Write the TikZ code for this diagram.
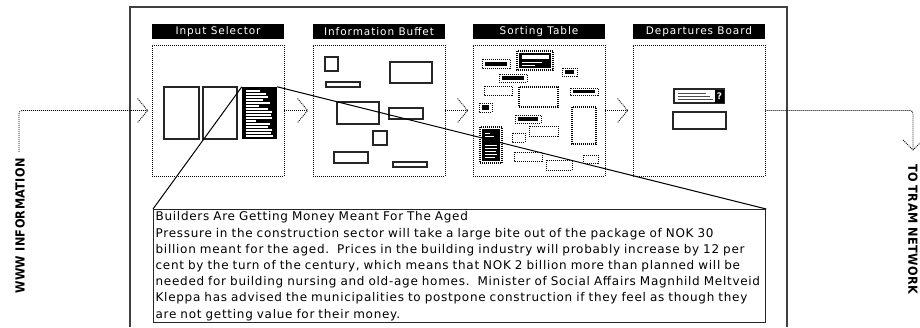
\documentclass[tikz,border=0pt]{standalone}
\usepackage{fontspec}
\setmainfont{DejaVu Sans}
\newfontfamily\bodyfont[LetterSpace=6]{DejaVu Sans}
\newfontfamily\hdrfont[LetterSpace=9]{DejaVu Sans}
\newfontfamily\vertfont[LetterSpace=3]{DejaVu Sans Condensed}
\usetikzlibrary{calc}
\begin{document}
\begin{tikzpicture}[x=1pt,y=-1pt,
  dotline/.style={line width=0.8pt, dash pattern=on 1pt off 1pt, black},
  panel/.style={draw, line width=0.8pt, dash pattern=on 1pt off 1pt, minimum width=132pt, minimum height=131pt, inner sep=0pt},
  hdr/.style={fill=black, text=white, font=\hdrfont\fontsize{10.5}{11}\selectfont, minimum width=132pt, minimum height=15pt, inner sep=0pt},
  solidbox/.style={draw=black!85, line width=1.2pt},
  dbox/.style={draw, line width=0.9pt, dash pattern=on 1pt off 1pt},
  ddbox/.style={draw, line width=1.8pt, dash pattern=on 1pt off 1pt},
  vert/.style={font=\vertfont\bfseries\fontsize{12.5}{13}\selectfont, inner sep=0pt},
  wl/.style={white, line width=1.1pt},
]
\useasboundingbox (0,0) rectangle (920,327);
% frame
\draw[line width=1.4pt, black!75] (130,327) -- (130,7) -- (787,7) -- (787,327);

% headers
\node[hdr] (h1) at (218,31.5) {Input Selector};
\node[hdr] (h2) at (379,31.5) {Information Buffet};
\node[hdr] (h3) at (539,31.5) {Sorting Table};
\node[hdr] (h4) at (699,31.5) {Departures Board};

% panels
\node[panel] (p1) at (218,110.5) {};
\node[panel] (p2) at (379,110.5) {};
\node[panel] (p3) at (539,110.5) {};
\node[panel] (p4) at (699,110.5) {};

% input selector content
\draw[solidbox] (164,87) rectangle (199,139);
\draw[solidbox] (203,87) rectangle (237,139);
\node[fill=black, minimum width=35pt, minimum height=52pt, inner sep=0pt] (doc) at (259.5,113) {};
\foreach \yy/\ll in {91/14,94/20,97/22,100/17,103/24,106/13,109/22,112/26,115/25,118/26,121/10,124/24,127/22,130/26,133/25,136/27}
  \draw[wl] (246,\yy) -- ++(\ll,0);

% information buffet content
\draw[solidbox] (325,57) rectangle (338,71);
\draw[solidbox] (390,62) rectangle (432,83);
\draw[solidbox] (326,82) rectangle (360,87);
\draw[solidbox] (337,102) rectangle (379,124);
\draw[solidbox] (389,108) rectangle (423,119);
\draw[solidbox] (373,131) rectangle (387,145);
\draw[solidbox] (334,152) rectangle (368,163);
\draw[solidbox] (393,162) rectangle (427,167);

% sorting table content
\draw[dbox] (482,59) rectangle (510,68); \fill (485,62) rectangle (507,66);
\draw[ddbox] (517,51) rectangle (553,70); \fill (519,53) rectangle (551,68);
\fill[white] (522,55) rectangle (549,59);
\draw[wl, line width=0.9pt] (522,62) -- (542,62);
\draw[wl, line width=0.9pt] (522,65) -- (535,65);
\draw[dbox] (562,68) rectangle (577,76); \fill (565,70) rectangle (574,74);
\draw[dbox] (499,74) rectangle (527,82); \fill (502,76) rectangle (524,80);
\draw[dbox] (484,86) rectangle (512,95);
\draw[ddbox] (519,87) rectangle (558,107);
\draw[dbox] (570,88) rectangle (598,95); \fill (573,90) rectangle (595,93);
\draw[dbox] (479,103) rectangle (492,112); \fill (482,105) rectangle (489,110);
\draw[ddbox] (572,107) rectangle (596,144);
\draw[dbox] (515,115) rectangle (541,123); \fill (518,117) rectangle (538,121);
\draw[dbox] (529,126) rectangle (558,136);
\draw[ddbox] (480,127) rectangle (502,163); \fill (482,129) rectangle (500,161);
\foreach \yy/\ll in {133/5,136/9,145/12,148/12,151/11,154/12,157/10}
  \draw[wl, line width=0.9pt] (485,\yy) -- ++(\ll,0);
\draw[dbox] (512,133) rectangle (525,142);
\draw[dbox] (514,152) rectangle (542,161);
\draw[dbox] (583,155) rectangle (598,163);
\draw[dbox] (546,160) rectangle (572,170);

% departures board content
\draw[solidbox] (674,89) rectangle (724,103);
\draw[black!70, line width=0.9pt] (678,93) -- (706,93);
\draw[black!70, line width=0.9pt] (678,96) -- (710,96);
\draw[black!70, line width=0.9pt] (678,99) -- (713,99);
\node[fill=black, text=white, font=\bfseries\fontsize{9}{9}\selectfont, minimum width=9pt, minimum height=13pt, inner sep=0pt] (q) at (719.5,96) {?};
\draw[solidbox] (673,112) rectangle (726,129);

% text box
\node[draw=black!85, line width=1.3pt, minimum width=612pt, minimum height=113pt, text width=608pt, inner sep=1.5pt, align=left, font=\bodyfont\fontsize{12}{16.2}\selectfont, anchor=north west] (tb) at (153,209)
{Builders Are Getting Money Meant For The Aged\\
Pressure in the construction sector will take a large bite out of the package of NOK 30\\
billion meant for the aged.\ \ Prices in the building industry will probably increase by 12 per\\
cent by the turn of the century, which means that NOK 2 billion more than planned will be\\
needed for building nursing and old-age homes.\ \ Minister of Social Affairs Magnhild Meltveid\\
Kleppa has advised the municipalities to postpone construction if they feel as though they\\
are not getting value for their money.};

% zoom lines
\draw[line width=1pt] (doc.north west) -- (tb.north west);
\draw[line width=1pt] (doc.north east) -- (tb.north east);

% vertical labels
\node[vert, rotate=90] (win) at (20,226) {WWW INFORMATION};
\node[vert, rotate=-90] (ton) at (913,229) {TO TRAM NETWORK};

% flow connectors
\coordinate (inS) at (19,152);
\coordinate (t1) at ($(p1.west)+(-4,0)$);
\draw[dotline, rounded corners=3pt] (inS) |- (t1);
\coordinate (t2) at ($(p2.west)+(-5,0)$);
\draw[dotline] (p1.east) -- (t2);
\coordinate (t3) at ($(p3.west)+(-5,0)$);
\draw[dotline] (p2.east) -- (t3);
\coordinate (t4) at ($(p4.west)+(-5,0)$);
\draw[dotline] (p3.east) -- (t4);
\foreach \t in {t1,t2,t3,t4}
  \draw[dotline] ($(\t)+(-10,-12)$) -- (\t) -- ($(\t)+(-10,12)$);
\coordinate (outE) at (913,150);
\draw[dotline, rounded corners=3pt] (p4.east) -| (outE);
\draw[dotline] ($(outE)+(-10,-10)$) -- (outE) -- ($(outE)+(10,-10)$);
\end{tikzpicture}
\end{document}
